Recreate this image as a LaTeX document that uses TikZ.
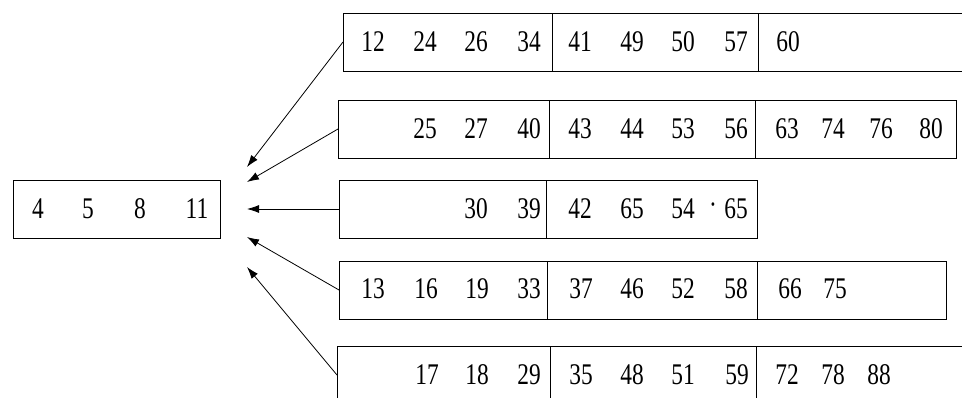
\documentclass[tikz,border=0pt]{standalone}
\usepackage{fontspec}
\setmainfont{Liberation Serif}[FakeStretch=0.78]
\usetikzlibrary{arrows.meta,positioning}

\begin{document}
\begin{tikzpicture}[x=1pt,y=-1pt,line width=0.8pt,
  every node/.style={font=\fontsize{30}{32}\selectfont,inner sep=0pt},
  seg/.style={draw,minimum height=58pt,outer sep=0pt,anchor=north west},
  arr/.style={-{Latex[length=12pt,width=8pt]}}]
\useasboundingbox (0,0) rectangle (962,398);
\clip (0,0) rectangle (962,398);
% merged output run
\node[seg,minimum width=207pt] (run) at (13,180) {};
\foreach \v/\x [count=\i] in {4/38,5/88,8/140,11/197}
  \node (run-\i) at (\x,209) {\v};
% input runs, one row of pages each
\node[seg,minimum width=209pt] (r1a) at (343,13) {};
\node[seg,minimum width=206pt] (r1b) at (r1a.north east) {};
\node[seg,minimum width=250pt] (r1c) at (r1b.north east) {};
\node[seg,minimum width=211pt] (r2a) at (338,100) {};
\node[seg,minimum width=206pt] (r2b) at (r2a.north east) {};
\node[seg,minimum width=201pt] (r2c) at (r2b.north east) {};
\node[seg,minimum width=207pt] (r3a) at (339,180) {};
\node[seg,minimum width=211pt] (r3b) at (r3a.north east) {};
\node[seg,minimum width=208pt] (r4a) at (339,261) {};
\node[seg,minimum width=210pt] (r4b) at (r4a.north east) {};
\node[seg,minimum width=189pt] (r4c) at (r4b.north east) {};
\node[seg,minimum width=213pt] (r5a) at (337,346) {};
\node[seg,minimum width=206pt] (r5b) at (r5a.north east) {};
\node[seg,minimum width=250pt] (r5c) at (r5b.north east) {};
% keys
\foreach \v/\x [count=\i] in {12/373,24/425,26/476,34/529,41/580,49/632,50/683,57/736,60/788}
  \node (r1-\i) at (\x,42) {\v};
\foreach \v/\x [count=\i] in {25/425,27/476,40/529,43/580,44/632,53/683,56/736,63/787,74/833,76/881,80/931}
  \node (r2-\i) at (\x,129) {\v};
\foreach \v/\x [count=\i] in {30/476,39/529,42/580,65/632,54/683,·/713,65/736}
  \node (r3-\i) at (\x,209) {\v};
\foreach \v/\x [count=\i] in {13/373,16/426,19/477,33/529,37/581,46/632,52/683,58/736,66/790,75/835}
  \node (r4-\i) at (\x,289) {\v};
\foreach \v/\x [count=\i] in {17/427,18/477,29/529,35/581,48/632,51/683,59/737,72/787,78/833,88/879}
  \node (r5-\i) at (\x,375) {\v};
% arrow ends next to the output run
\coordinate (t1) at (247,167);
\coordinate (t2) at (247,182);
\coordinate (t3) at (247,209);
\coordinate (t4) at (247,237);
\coordinate (t5) at (247,267);
\draw[arr] (r1a.west)--(t1);
\draw[arr] (r2a.west)--(t2);
\draw[arr] (r3a.west)--(t3);
\draw[arr] (r4a.west)--(t4);
\draw[arr] (r5a.west)--(t5);
\end{tikzpicture}
\end{document}
